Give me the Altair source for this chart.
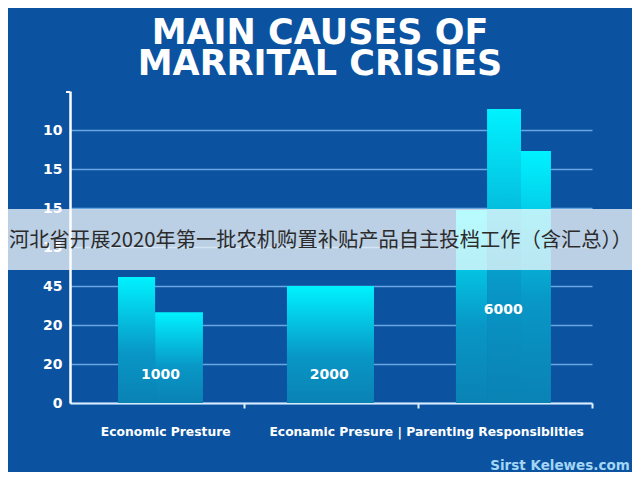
import altair as alt
import pandas as pd

# ---- data ----
# bar segments (x in category units: each category spans 1 unit; height in gridline units)
seg_x0 = [0.276, 0.489, 1.247, 2.218, 2.397, 2.592]
seg_x1 = [0.489, 0.764, 1.747, 2.397, 2.592, 2.764]
seg_h = [3.23, 2.33, 3.0, 4.95, 7.54, 6.46]

bar_labels = ["1000", "2000", "6000"]
bar_label_x = [0.52, 1.49, 2.49]
bar_label_y = [0.72, 0.72, 2.38]

ytick_values = [0, 1, 2, 3, 4, 5, 6, 7]
ytick_labels = ["0", "20", "20", "45", "15", "15", "15", "10"]

xlabel_text = ["Economic Presture", "Econamic Presure  |  Parenting Responsiblities"]
xlabel_x = [0.55, 2.05]

title_lines = ["MAIN CAUSES OF", "MARRITAL CRISIES"]
banner_text = ["河北省开展2020年第一批农机购置补贴产品自主投档工作（含汇总））"]
watermark = ["Sirst Kelewes.com"]

W, H = 522, 312
BG = "#0b53a1"

bars_df = pd.DataFrame({"x0": seg_x0, "x1": seg_x1, "h": seg_h, "b": [0] * len(seg_h)})
blabel_df = pd.DataFrame({"x": bar_label_x, "y": bar_label_y, "t": bar_labels})
xlabel_df = pd.DataFrame({"x": xlabel_x, "t": xlabel_text})

label_js = "[" + ",".join("'%s'" % s for s in ytick_labels) + "][datum.value]"

xscale = alt.Scale(domain=[0, 3], nice=False, zero=False)
yscale = alt.Scale(domain=[0, 8], nice=False)

grad = alt.LinearGradient(
    gradient="linear",
    stops=[alt.GradientStop(color="#00f2ff", offset=0),
           alt.GradientStop(color="#0897c6", offset=0.6),
           alt.GradientStop(color="#0a82b4", offset=1)],
    x1=0, x2=0, y1=0, y2=1,
)

bars = alt.Chart(bars_df).mark_rect(color=grad).encode(
    x=alt.X("x0:Q", scale=xscale, axis=alt.Axis(
        values=[1, 2, 3], labels=False, title=None, grid=False,
        ticks=True, tickSize=5, tickWidth=2, tickColor="#e0f0ff",
        domainColor="#d8ecff", domainWidth=2)),
    x2="x1:Q",
    y=alt.Y("h:Q", scale=yscale, axis=alt.Axis(
        values=ytick_values, labelExpr=label_js, title=None,
        ticks=False, labelPadding=8, labelColor="white",
        labelFont="DejaVu Sans", labelFontWeight="bold", labelFontSize=14,
        domainColor="white", domainWidth=2.5,
        grid=True, gridColor="#6aa7e2", gridWidth=1.5)),
    y2="b:Q",
)

blabels = alt.Chart(blabel_df).mark_text(
    color="white", font="DejaVu Sans", fontWeight="bold", fontSize=14,
    baseline="middle", align="center"
).encode(x=alt.X("x:Q", scale=xscale), y=alt.Y("y:Q", scale=yscale), text="t:N")

xlabels = alt.Chart(xlabel_df).mark_text(
    color="white", font="DejaVu Sans", fontWeight="bold", fontSize=12.3,
    baseline="middle", align="center"
).encode(x=alt.X("x:Q", scale=xscale), y=alt.value(341), text="t:N")

stub = alt.Chart(pd.DataFrame({"a": [0]})).mark_rule(color="white", strokeWidth=2).encode(
    x=alt.value(-4), x2=alt.value(0), y=alt.value(1))

banner = alt.Chart(pd.DataFrame({"a": [0]})).mark_rect(color="white", opacity=0.72).encode(
    x=alt.value(-70), x2=alt.value(570), y=alt.value(118), y2=alt.value(179))

banner_t = alt.Chart(pd.DataFrame({"t": banner_text})).mark_text(
    color="#2b2b2b", font="Noto Sans CJK SC", fontSize=20.3, align="left", baseline="middle"
).encode(x=alt.value(-61), y=alt.value(150), text="t:N")

title_df = pd.DataFrame({"t": title_lines, "yy": [-47, -16]})
title = alt.Chart(title_df).mark_text(
    color="white", font="DejaVu Sans", fontWeight="bold", fontSize=35, align="center",
    baseline="alphabetic"
).encode(x=alt.value(250), y=alt.Y("yy:Q", scale=None), text="t:N")

wm = alt.Chart(pd.DataFrame({"t": watermark})).mark_text(
    color="#a3d6f5", font="DejaVu Sans", fontWeight="bold", fontSize=13.5, align="center",
    baseline="middle"
).encode(x=alt.value(490), y=alt.value(375), text="t:N")

chart = alt.layer(bars, blabels, xlabels, stub, banner, banner_t, title, wm).properties(
    width=W, height=H,
    autosize=alt.AutoSizeParams(type="none"),
    padding={"left": 62, "top": 83, "right": 40, "bottom": 69},
    background=BG,
).configure_view(stroke=None)

chart.save("out.html", embed_options={"renderer": "svg", "actions": False})
